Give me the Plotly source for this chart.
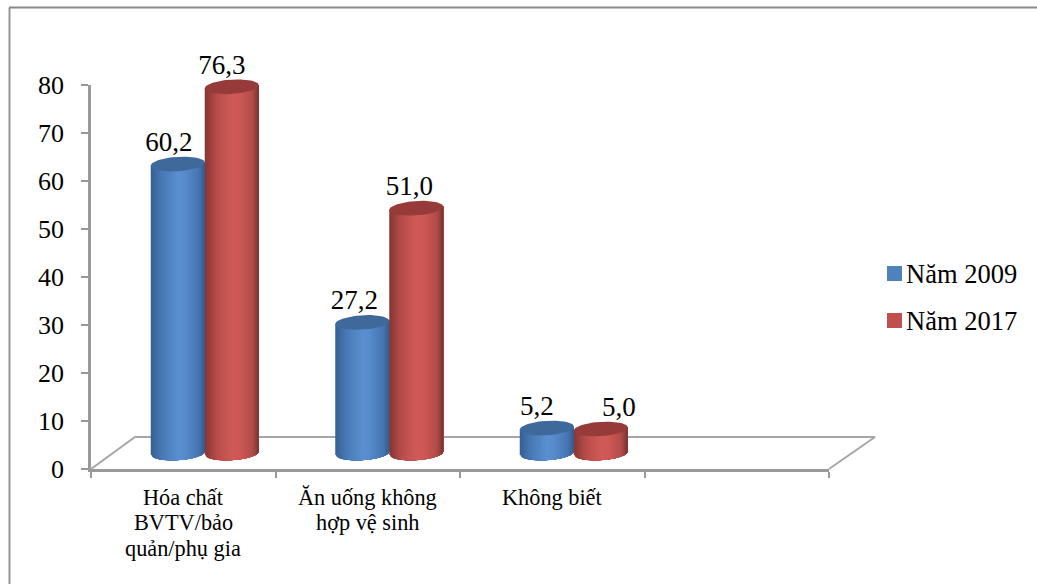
import numpy as np
import plotly.graph_objects as go

# Chart data
categories = ["Hóa chất<br>BVTV/bảo<br>quản/phụ gia", "Ăn uống không<br>hợp vệ sinh", "Không biết"]
series_names = ["Năm 2009", "Năm 2017"]
values_2009 = [60.2, 27.2, 5.2]
values_2017 = [76.3, 51.0, 5.0]
y_ticks = [0, 10, 20, 30, 40, 50, 60, 70, 80]

# Plot area in pixels; the figure itself has no margins
W, H = 1037, 584
LEFT, RIGHT, TOP, BOTTOM = 91, 829, 85, 469
N_SLOTS = 4  # one empty slot is kept on the right of the axis
PX_X = N_SLOTS / (RIGHT - LEFT)
PX_Y = 80 / (BOTTOM - TOP)

# Pseudo-3D projection: depth of the floor and the cylinder proportions
DEPTH_X, DEPTH_Y = 46 * PX_X, 32 * PX_Y
BAR_SHIFT = 21.5 * PX_X
BAR_A, BAR_B, BAR_TILT = 27 * PX_X, 7.2 * PX_Y, 1.6 * PX_Y

AXIS_GREY = "#999999"
SERIF = "Liberation Serif"

# Horizontal shading across a cylinder: (position, colour) stops
SHADES = {
    "Năm 2009": dict(
        stops=[(0, (52, 96, 148)), (0.2, (72, 120, 180)), (0.5, (90, 143, 208)),
               (0.62, (88, 140, 205)), (0.88, (70, 118, 178)), (1, (50, 92, 142))],
        cap="#3f689b", swatch="#4f81bd"),
    "Năm 2017": dict(
        stops=[(0, (132, 54, 52)), (0.22, (182, 76, 74)), (0.5, (208, 90, 87)),
               (0.65, (206, 88, 85)), (0.88, (178, 76, 74)), (1, (120, 50, 48))],
        cap="#963b39", swatch="#c0504d"),
}


def shade(stops, f):
    xs = [s[0] for s in stops]
    rgb = [np.interp(f, xs, [s[1][i] for s in stops]) for i in range(3)]
    return "rgb({:.0f},{:.0f},{:.0f})".format(*rgb)


def cylinder_traces(cx, value, style, n=40):
    """Body painted left to right, each strip reaching the far edge, then the cap."""
    base = DEPTH_Y / 2
    top = base + value
    traces = []
    edges = np.linspace(-1, 1, n + 1)
    for i in range(n):
        u = np.linspace(edges[i], 1, 40)
        x = cx + BAR_A * u
        circ = np.sqrt(np.clip(1 - u ** 2, 0, 1))
        tilt = BAR_TILT * u
        y_low = base - BAR_B * circ + tilt
        y_high = top + tilt
        traces.append(go.Scatter(
            x=np.r_[x, x[::-1]], y=np.r_[y_low, y_high[::-1]],
            xaxis="x2", yaxis="y2",
            mode="lines", line=dict(width=0), fill="toself",
            fillcolor=shade(style["stops"], (i + 0.5) / n),
            hoverinfo="skip", showlegend=False))
    t = np.linspace(0, 2 * np.pi, 72)
    traces.append(go.Scatter(
        x=cx + BAR_A * np.cos(t),
        y=top + BAR_B * np.sin(t) + BAR_TILT * np.cos(t),
        xaxis="x2", yaxis="y2",
        mode="lines", line=dict(width=0), fill="toself",
        fillcolor=style["cap"], hoverinfo="skip", showlegend=False))
    return traces


fig = go.Figure()

# Empty trace that keeps the visible axes alive
fig.add_trace(go.Scatter(x=[None], y=[None], xaxis="x", yaxis="y", showlegend=False, hoverinfo="skip"))

# Floor of the 3D box
fig.add_trace(go.Scatter(
    x=[0, 44 * PX_X, N_SLOTS + DEPTH_X, N_SLOTS],
    y=[0, DEPTH_Y, DEPTH_Y, 0],
    xaxis="x2", yaxis="y2",
    mode="lines", line=dict(color="#a6a6a6", width=2),
    hoverinfo="skip", showlegend=False))

# Cylinders, blue before red so the red ones overlap
for i in range(len(categories)):
    centre = i + 0.5 + BAR_SHIFT
    for name, vals, side in ((series_names[0], values_2009, -1), (series_names[1], values_2017, 1)):
        for tr in cylinder_traces(centre + side * BAR_A, vals[i], SHADES[name]):
            fig.add_trace(tr)

# Value labels above each cylinder
label_dx = {"Năm 2009": [-9, -8, -10], "Năm 2017": [-10, -7, 18]}
for name, vals, side in ((series_names[0], values_2009, -1), (series_names[1], values_2017, 1)):
    xs = [i + 0.5 + BAR_SHIFT + side * BAR_A + label_dx[name][i] * PX_X for i in range(len(vals))]
    ys = [v + DEPTH_Y / 2 + 20 * PX_Y for v in vals]
    fig.add_trace(go.Scatter(
        x=xs, y=ys, xaxis="x2", yaxis="y2", mode="text",
        text=[f"{v:.1f}".replace(".", ",") for v in vals],
        textposition="middle center",
        textfont=dict(family=SERIF, size=27, color="#000000"),
        hoverinfo="skip", showlegend=False))

# Category labels, one annotation per line for a tight line pitch
annotations = []
for i, label in enumerate(categories):
    for j, line in enumerate(label.split("<br>")):
        annotations.append(dict(
            x=i + 0.5, y=0, xref="x", yref="y", text=line, showarrow=False,
            yshift=-28 - 25.5 * j, yanchor="middle", xanchor="center",
            font=dict(family=SERIF, size=22.3, color="#000000")))

# Outer frame: left and top edges only
shapes = [
    dict(type="line", xref="paper", yref="paper",
         x0=9.5 / W, x1=9.5 / W, y0=0, y1=1 - 7.5 / H,
         line=dict(color="#969696", width=2)),
    dict(type="line", xref="paper", yref="paper",
         x0=9 / W, x1=1, y0=1 - 7.5 / H, y1=1 - 7.5 / H,
         line=dict(color="#8a8a8a", width=2)),
]

# Series key to the right of the plot
for name, key_y in zip(series_names, (273.5, 320.5)):
    shapes.append(dict(
        type="rect", xref="paper", yref="paper",
        x0=887 / W, x1=902 / W, y0=1 - (key_y + 7.5) / H, y1=1 - (key_y - 7.5) / H,
        fillcolor=SHADES[name]["swatch"], line=dict(width=0)))
    annotations.append(dict(
        x=906 / W, y=1 - (key_y + 0.5) / H, xref="paper", yref="paper", text=name,
        showarrow=False, xanchor="left", yanchor="middle", xshift=-2,
        font=dict(family=SERIF, size=26.5, color="#000000")))

fig.update_layout(
    width=W, height=H, autosize=False,
    margin=dict(l=0, r=0, t=0, b=0, pad=0, autoexpand=False),
    paper_bgcolor="#ffffff", plot_bgcolor="rgba(0,0,0,0)",
    showlegend=False, annotations=annotations, shapes=shapes,
    xaxis=dict(
        domain=[LEFT / W, RIGHT / W], range=[0, N_SLOTS], showgrid=False, zeroline=False,
        showticklabels=False, tickmode="array", tickvals=list(range(N_SLOTS + 1)),
        ticks="outside", ticklen=6, tickwidth=2, tickcolor=AXIS_GREY,
        showline=True, linecolor=AXIS_GREY, linewidth=2.5),
    yaxis=dict(
        domain=[1 - BOTTOM / H, 1 - TOP / H], range=[0, 80], showgrid=False, zeroline=False,
        tickmode="array", tickvals=y_ticks, ticktext=[str(v) for v in y_ticks],
        ticks="outside", ticklen=7, tickwidth=2, tickcolor=AXIS_GREY,
        ticklabelstandoff=12,
        showline=True, linecolor=AXIS_GREY, linewidth=2.5,
        tickfont=dict(family=SERIF, size=26, color="#000000")),
    # Full-page overlay with the same scale, so the 3D parts can leave the plot area
    xaxis2=dict(
        domain=[0, 1], range=[-LEFT * PX_X, (W - LEFT) * PX_X], visible=False,
        anchor="y2"),
    yaxis2=dict(
        domain=[0, 1], range=[(BOTTOM - H) * PX_Y, BOTTOM * PX_Y], visible=False,
        anchor="x2"),
)

fig.write_html("out.html")
